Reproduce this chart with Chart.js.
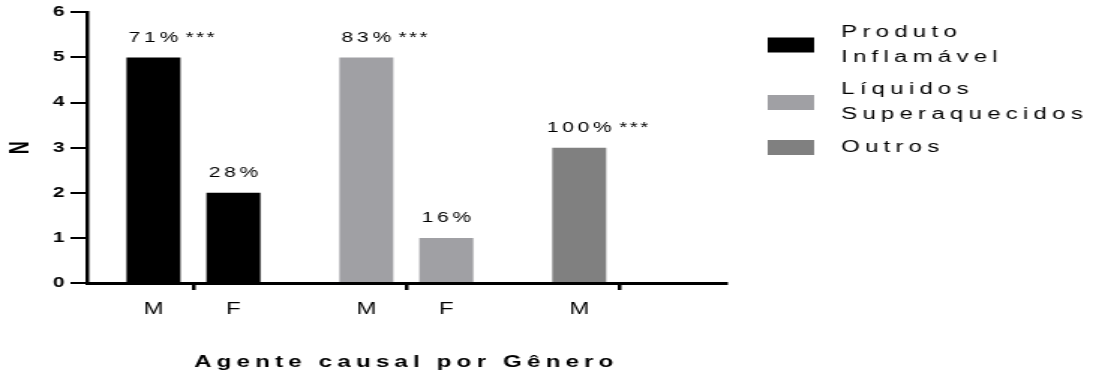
<!DOCTYPE html>
<html lang="pt">
<head>
<meta charset="utf-8">
<title>Agente causal por Gênero</title>
<script src="https://cdn.jsdelivr.net/npm/chart.js@4.4.1/dist/chart.umd.min.js"></script>
<style>
  html, body { margin: 0; padding: 0; background: #ffffff; overflow: hidden; }
  #chart { display: block; }
</style>
</head>
<body>
<!-- the drawing is rendered narrow and widened to the page width -->
<canvas id="chart" width="731" height="376" style="width:1096px;height:376px"></canvas>
<script>
// Causal agent groups (legend entries) and gender of each bar
const groups = ['Produto Inflamável', 'Líquidos Superaquecidos', 'Outros'];
const genders = ['M', 'F'];

// Number of cases per group, by gender
const countsM = [5, 5, 3];
const countsF = [2, 1, null];

// Share of each gender within its group, and significance marks
const percentM = ['71%', '83%', '100%'];
const percentF = ['28%', '16%', null];
const signifM = ['***', '***', '***'];
const signifF = ['', '', ''];

// Y axis tick values
const yTicks = [0, 1, 2, 3, 4, 5, 6];

const groupColors = ['#000000', '#a0a0a4', '#808080'];
const FONT = '"Liberation Sans", Arial, Helvetica, sans-serif';

// width of the inked text when drawn with the given letter spacing
function spacedWidth(ctx, text, ls) {
  ctx.letterSpacing = '0px';
  const w = ctx.measureText(text).width + (text.length - 1) * ls;
  ctx.letterSpacing = ls + 'px';
  return w;
}

// Gender under each bar and percentage above it
const barNotes = {
  id: 'barNotes',
  beforeDraw(chart) {
    chart.ctx.letterSpacing = '0px';
  },
  afterDatasetsDraw(chart) {
    const { ctx, chartArea } = chart;
    const notes = [
      { pct: percentM, sig: signifM },
      { pct: percentF, sig: signifF }
    ];
    ctx.save();
    ctx.fillStyle = '#000000';
    chart.data.datasets.forEach((ds, d) => {
      const meta = chart.getDatasetMeta(d);
      meta.data.forEach((bar, i) => {
        if (ds.data[i] === null || ds.data[i] === undefined) return;
        ctx.letterSpacing = '0px';
        ctx.font = '16px ' + FONT;
        ctx.textAlign = 'center';
        ctx.textBaseline = 'middle';
        ctx.fillText(genders[d], bar.x, chartArea.bottom + 27);

        const pct = notes[d].pct[i];
        const sig = notes[d].sig[i];
        if (!pct) return;
        ctx.font = '14px ' + FONT;
        ctx.textAlign = 'left';
        ctx.textBaseline = 'alphabetic';
        const w = spacedWidth(ctx, pct, 2.5);
        const x0 = bar.x - w / 2;
        ctx.fillText(pct, x0, bar.y - 16);
        if (sig) {
          ctx.letterSpacing = '1.5px';
          ctx.fillText(sig, x0 + w + 5, bar.y - 16);
        }
      });
    });
    ctx.restore();
    // spaced lettering for the x axis title, drawn after the bars
    ctx.letterSpacing = '3.5px';
  }
};

// Legend on the right, names wrapped word by word
const sideLegend = {
  id: 'sideLegend',
  afterDraw(chart) {
    const { ctx, chartArea } = chart;
    const boxX = chartArea.right + 28;
    const boxW = 31, boxH = 15;
    const textX = boxX + boxW + 18;
    const lineH = 25, itemGap = 7.5;
    let y = 32.5;
    ctx.save();
    ctx.font = '16px ' + FONT;
    ctx.letterSpacing = '3.5px';
    ctx.textAlign = 'left';
    ctx.textBaseline = 'middle';
    groups.forEach((name, i) => {
      const lines = name.split(' ');
      const mid = y + (lines.length - 1) * lineH / 2;
      ctx.fillStyle = groupColors[i];
      ctx.fillRect(boxX, mid - boxH / 2, boxW, boxH);
      ctx.fillStyle = '#000000';
      lines.forEach((t, k) => ctx.fillText(t, textX, y + k * lineH));
      y += lines.length * lineH + itemGap;
    });
    ctx.restore();
    ctx.letterSpacing = '0px';
  }
};

new Chart(document.getElementById('chart'), {
  type: 'bar',
  data: {
    labels: groups,
    datasets: [
      { label: genders[0], data: countsM, backgroundColor: groupColors, borderWidth: 0 },
      { label: genders[1], data: countsF, backgroundColor: groupColors, borderWidth: 0 }
    ]
  },
  options: {
    responsive: false,
    animation: false,
    devicePixelRatio: 1,
    categoryPercentage: 0.751,
    barPercentage: 0.675,
    layout: { padding: { left: 0, top: 10, right: 247, bottom: 0 } },
    plugins: {
      legend: { display: false },
      tooltip: { enabled: false }
    },
    scales: {
      x: {
        grid: {
          display: true,
          drawOnChartArea: false,
          drawTicks: true,
          tickLength: 7,
          offset: false,
          color: '#000000',
          lineWidth: 2.5,
          z: 1
        },
        border: { display: true, color: '#000000', width: 3, z: 1 },
        ticks: { display: false },
        title: {
          display: true,
          text: 'Agente causal por Gênero',
          color: '#000000',
          font: { family: FONT, size: 16, weight: 'bold' },
          padding: { top: 62.8, bottom: 4 }
        },
        afterFit(scale) { scale.height = 93; }
      },
      y: {
        min: 0,
        max: 6,
        afterBuildTicks(scale) {
          scale.ticks = yTicks.map(v => ({ value: v }));
        },
        grid: {
          display: true,
          drawOnChartArea: false,
          drawTicks: true,
          tickLength: 11,
          color: '#000000',
          lineWidth: 2
        },
        border: { display: true, color: '#000000', width: 2.5 },
        ticks: {
          color: '#000000',
          padding: 4,
          font: { family: FONT, size: 14, weight: 'bold' }
        },
        title: {
          display: true,
          text: 'N',
          color: '#000000',
          font: { family: FONT, size: 18, weight: 'bold' },
          padding: { top: 3, bottom: 0 }
        },
        afterFit(scale) { scale.width = 58; }
      }
    }
  },
  plugins: [barNotes, sideLegend]
});
</script>
</body>
</html>
